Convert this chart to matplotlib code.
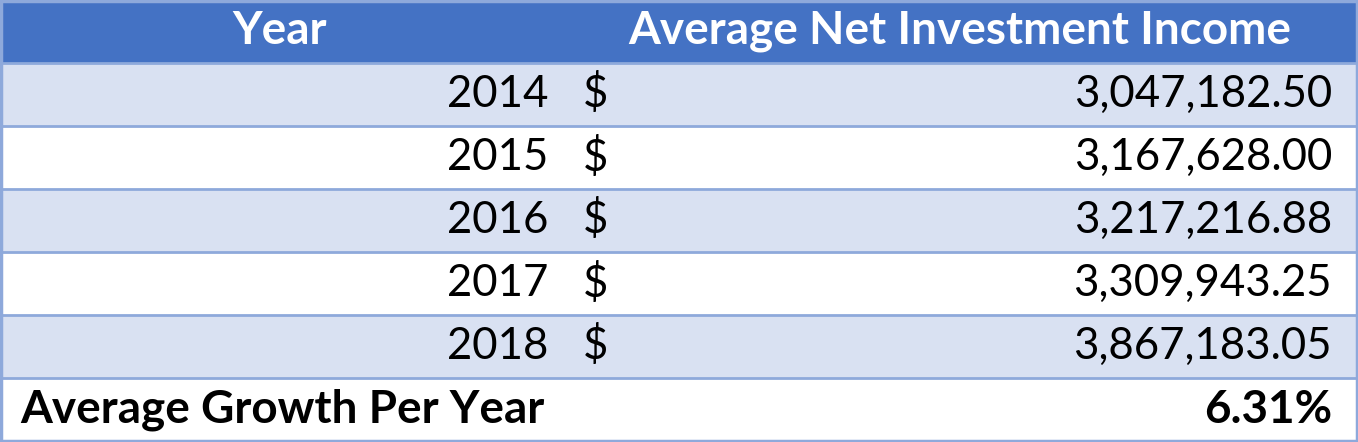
import matplotlib
matplotlib.use("Agg")
import matplotlib.pyplot as plt
from matplotlib.patches import Rectangle

header = ["Year", "Average Net Investment Income"]
years = ["2014", "2015", "2016", "2017", "2018"]
incomes = ["3,047,182.50", "3,167,628.00", "3,217,216.88", "3,309,943.25", "3,867,183.05"]
footer_label = "Average Growth Per Year"
footer_value = "6.31%"

W, H = 1358, 442
fig = plt.figure(figsize=(W/100, H/100), dpi=100)
ax = fig.add_axes([0, 0, 1, 1])
ax.set_xlim(0, W); ax.set_ylim(H, 0); ax.axis("off")

font = "Lato"
fs = 31.5
fsb = 33
rh = 63
blue = "#4472C4"; band = "#D9E1F2"; line = "#8EA9DB"

ax.add_patch(Rectangle((0, 0), W, rh, color=blue, lw=0))
ax.text(280, rh/2, header[0], color="white", fontsize=fsb, fontweight="bold", family=font, ha="center", va="center")
ax.text(960, rh/2, header[1], color="white", fontsize=fsb, fontweight="bold", family=font, ha="center", va="center")

for i, (y, v) in enumerate(zip(years, incomes)):
    top = rh*(i+1)
    ax.add_patch(Rectangle((0, top), W, rh, color=band if i % 2 == 0 else "white", lw=0))
    cy = top + rh/2
    ax.text(548, cy, y, fontsize=fs, family=font, ha="right", va="center")
    ax.text(583, cy, "$", fontsize=fs, family=font, ha="left", va="center")
    ax.text(1332, cy, v, fontsize=fs, family=font, ha="right", va="center")

top = rh*6
ax.text(20, top + (H-top)/2, footer_label, fontsize=fsb, fontweight="bold", family=font, ha="left", va="center")
ax.text(1332, top + (H-top)/2, footer_value, fontsize=fsb, fontweight="bold", family=font, ha="right", va="center")

for k in range(1, 7):
    ax.plot([0, W], [rh*k, rh*k], color=line, lw=2)
ax.add_patch(Rectangle((1, 1), W-2, H-2, fill=False, ec=line, lw=2.5))

fig.savefig("out.png", dpi=100)
